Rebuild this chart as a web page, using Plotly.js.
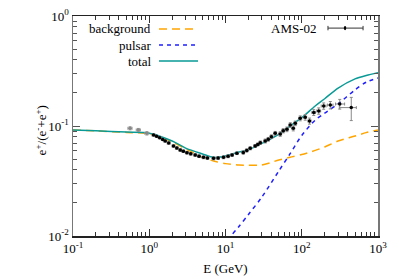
<!DOCTYPE html>
<html><head><meta charset="utf-8">
<script src="https://cdn.plot.ly/plotly-3.0.1.min.js"></script>
<style>body{margin:0;background:#fff}#plot{width:399px;height:279px}</style>
</head><body><div id="plot"></div>
<script>
// Model curves
var E_curve = [0.1,0.2,0.5,1,2,3,5,7,10,15,20,30,50,70,100,150,200,300,500,700,1000];
var total   = [0.092,0.0905,0.088,0.086,0.073,0.063,0.0557,0.0518,0.0534,0.058,0.0609,0.0694,0.0839,0.100,0.119,0.152,0.177,0.221,0.268,0.288,0.305];
var background = [0.092,0.0902,0.0875,0.0846,0.0716,0.062,0.052,0.048,0.0455,0.0442,0.044,0.0443,0.049,0.052,0.055,0.060,0.0645,0.073,0.081,0.087,0.092];
var E_psr = [10,11.9,15,20,30,50,70,100,150,200,300,500,700,1000];
var pulsar = [0.0078,0.01,0.0122,0.0157,0.0226,0.039,0.0557,0.082,0.113,0.131,0.159,0.213,0.25,0.273];

// AMS-02 data (grey: low-energy points)
var E_grey = [0.56,0.72,0.93];
var f_grey = [0.0953,0.092,0.0858];
var fe_grey = [0.003,0.003,0.003];
var Ee_grey = [0.035,0.045,0.055];

var E_ams = [1.14,1.25,1.37,1.5,1.62,1.8,2.08,2.3,2.55,2.8,3.12,3.5,4.01,4.5,5.15,5.8,6.97,8.0,9.42,10.8,12.2,14.1,17.1,19,21.1,24.5,26.5,28.6,33.2,36.4,40,44.9,52.2,57.2,63.9,70.7,77.4,82.2,95.5,111,126.5,143.6,167,194,237,315,446];
var f_ams = [0.0828,0.0805,0.0782,0.0755,0.0731,0.070,0.0658,0.063,0.0605,0.059,0.0572,0.0558,0.0545,0.0532,0.0519,0.0512,0.0508,0.0511,0.0519,0.053,0.0545,0.0565,0.0574,0.060,0.0627,0.0658,0.068,0.0705,0.0731,0.0757,0.080,0.0858,0.0846,0.0906,0.0933,0.102,0.0953,0.1058,0.1175,0.120,0.111,0.1327,0.137,0.152,0.155,0.1585,0.147];
var fe_ams = [0.0015,0.0015,0.0015,0.0015,0.0015,0.0015,0.0015,0.0015,0.0015,0.0015,0.0015,0.0015,0.0015,0.0015,0.0015,0.0015,0.0015,0.0015,0.0015,0.0015,0.0015,0.0015,0.002,0.002,0.002,0.002,0.002,0.0025,0.003,0.003,0.003,0.0035,0.004,0.004,0.0045,0.005,0.005,0.005,0.006,0.007,0.007,0.008,0.009,0.010,0.012,0.016,0.035];
var Ee_ams_plus = [0.05,0.05,0.06,0.06,0.07,0.08,0.09,0.1,0.11,0.12,0.14,0.15,0.18,0.2,0.23,0.26,0.3,0.35,0.4,0.45,0.5,0.6,0.7,0.8,0.9,1,1.1,1.2,1.4,1.5,1.7,2,2.3,2.5,2.8,3,3.3,3.6,4.5,5,6,8,10,14,20,50,74];
var Ee_ams_minus = [0.05,0.05,0.06,0.06,0.07,0.08,0.09,0.1,0.11,0.12,0.14,0.15,0.18,0.2,0.23,0.26,0.3,0.35,0.4,0.45,0.5,0.6,0.7,0.8,0.9,1,1.1,1.2,1.4,1.5,1.7,2,2.3,2.5,2.8,3,3.3,3.6,4.5,5,6,8,10,14,20,38,135];

var xTickVals = [0.1,1,10,100,1000];
var xTickText = ['10<sup>-1</sup>','10<sup>0</sup>','10<sup>1</sup>','10<sup>2</sup>','10<sup>3</sup>'];
var yTickVals = [0.01,0.1,1];
var yTickText = ['10<sup>-2</sup>','10<sup>-1</sup>','10<sup>0</sup>'];

function minorVals(lo, hi){ var v=[]; for(var d=lo; d<hi; d++){ for(var k=2;k<=9;k++){ v.push(k*Math.pow(10,d)); } } return v; }

var serif = 'Liberation Serif';

var traces = [
  {x:E_curve, y:background, mode:'lines', line:{color:'#ffa500', width:1.5, dash:'8px,5px', shape:'spline', smoothing:0.8}, showlegend:false, hoverinfo:'skip'},
  {x:E_psr, y:pulsar, mode:'lines', line:{color:'#1f1fff', width:1.5, dash:'4px,4px', shape:'spline', smoothing:0.8}, showlegend:false, hoverinfo:'skip'},
  {x:E_curve, y:total, mode:'lines', line:{color:'#0a9a96', width:1.5, shape:'spline', smoothing:0.8}, showlegend:false, hoverinfo:'skip'},
  {x:E_grey, y:f_grey, mode:'markers', marker:{color:'#888', size:3.5},
   error_y:{type:'data', array:fe_grey, color:'#999', thickness:1, width:1.5},
   error_x:{type:'data', array:Ee_grey, color:'#999', thickness:1, width:1.5}, showlegend:false},
  {x:E_ams, y:f_ams, mode:'markers', marker:{color:'#000', size:3.5},
   error_y:{type:'data', array:fe_ams, color:'#888', thickness:1, width:1.5},
   error_x:{type:'data', array:Ee_ams_plus, arrayminus:Ee_ams_minus, color:'#888', thickness:1, width:1.5}, showlegend:false}
];

// Legend (gnuplot style: label right-aligned, sample to the right)
var legY = [0.941, 0.868, 0.795];
var legText = ['background','pulsar','total'];
var legColor = ['#ffa500','#1f1fff','#0a9a96'];
var legDash = ['8px,5px','4px,4px','solid'];
var annotations = [];
var shapes = [];
for (var i=0;i<3;i++){
  annotations.push({xref:'paper', yref:'paper', x:0.262, y:legY[i], xanchor:'right', yanchor:'middle', text:legText[i], showarrow:false, font:{family:serif, size:13, color:'#000'}});
  shapes.push({type:'line', xref:'paper', yref:'paper', x0:0.282, x1:0.41, y0:legY[i], y1:legY[i], line:{color:legColor[i], width:1.5, dash:legDash[i]}});
}
annotations.push({xref:'paper', yref:'paper', x:0.806, y:0.945, xanchor:'right', yanchor:'middle', text:'AMS-02', showarrow:false, font:{family:serif, size:13, color:'#000'}});
// y-axis title placed like the reference
annotations.push({xref:'paper', yref:'paper', x:-0.105, y:0.48, xanchor:'center', yanchor:'middle', textangle:-90, text:'e<sup>+</sup>/(e<sup>-</sup>+e<sup>+</sup>)', showarrow:false, font:{family:serif, size:13, color:'#000'}});
shapes.push({type:'line', xref:'paper', yref:'paper', x0:0.836, x1:0.951, y0:0.945, y1:0.945, line:{color:'#333', width:1}});
shapes.push({type:'line', xref:'paper', yref:'paper', x0:0.836, x1:0.836, y0:0.935, y1:0.955, line:{color:'#333', width:1}});
shapes.push({type:'line', xref:'paper', yref:'paper', x0:0.951, x1:0.951, y0:0.935, y1:0.955, line:{color:'#333', width:1}});
shapes.push({type:'circle', xref:'paper', yref:'paper', x0:0.888, x1:0.896, y0:0.9355, y1:0.9545, fillcolor:'#000', line:{color:'#000', width:0}});

var layout = {
  width:399, height:279,
  margin:{l:73, r:21, t:16, b:43},
  paper_bgcolor:'#fff', plot_bgcolor:'#fff',
  font:{family:serif, size:13, color:'#000'},
  showlegend:false,
  xaxis:{type:'log', range:[-1,3], tickmode:'array', tickvals:xTickVals, ticktext:xTickText,
    ticks:'inside', ticklen:7, tickcolor:'#333', tickwidth:1,
    showline:true, linecolor:'#222', linewidth:1.5, mirror:'ticks', showgrid:false, zeroline:false,
    minor:{tickmode:'array', tickvals:minorVals(-1,3), ticks:'inside', ticklen:4, tickcolor:'#333', showgrid:false},
    title:{text:'E (GeV)', font:{family:serif, size:13}, standoff:9},
    tickfont:{family:serif, size:13}},
  yaxis:{type:'log', range:[-2,0], tickmode:'array', tickvals:yTickVals, ticktext:yTickText,
    ticks:'inside', ticklen:7, tickcolor:'#555', tickwidth:1,
    showline:true, linecolor:'#777', linewidth:1.5, mirror:'ticks', showgrid:false, zeroline:false,
    minor:{tickmode:'array', tickvals:minorVals(-2,0), ticks:'inside', ticklen:4, tickcolor:'#555', showgrid:false},
    tickfont:{family:serif, size:13}},
  annotations:annotations,
  shapes:shapes
};

Plotly.newPlot('plot', traces, layout, {staticPlot:true, displayModeBar:false});
</script>
</body></html>
